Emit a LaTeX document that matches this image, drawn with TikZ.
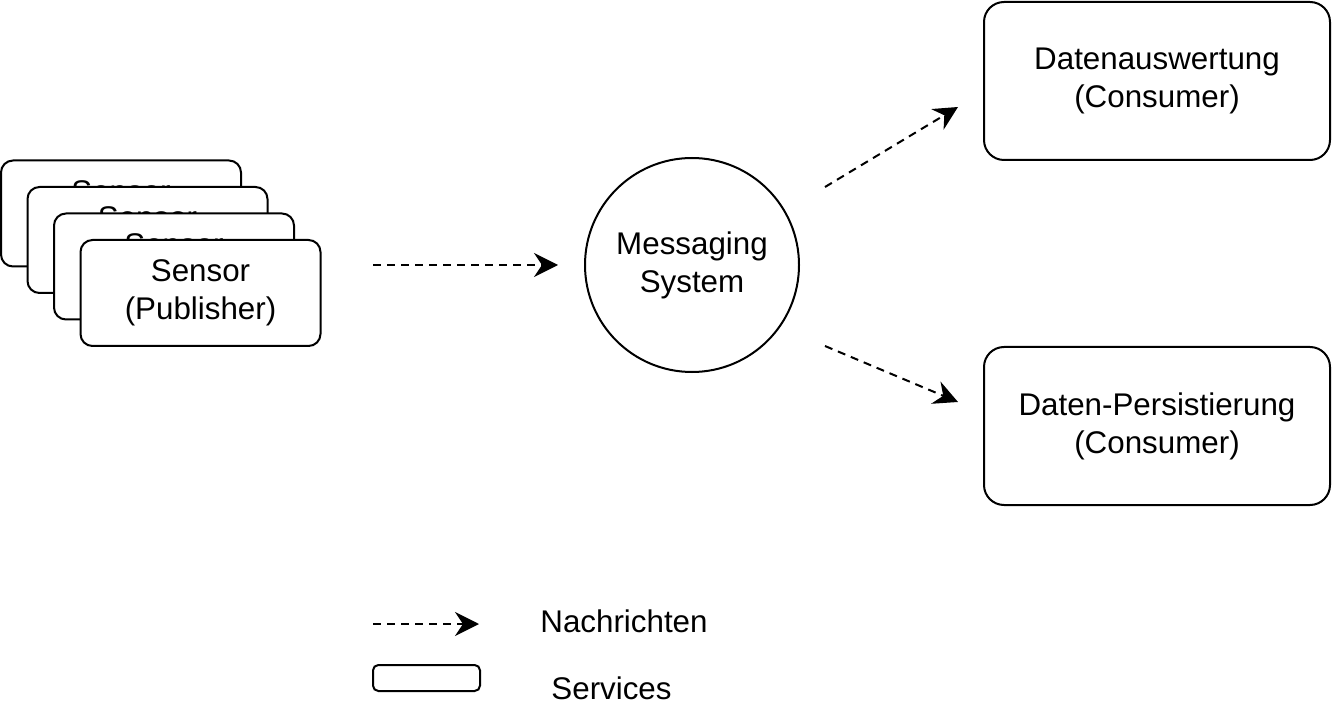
\documentclass[tikz,border=0pt]{standalone}
\usepackage{fontspec}
\setmainfont{Liberation Sans}
\usetikzlibrary{arrows.meta}
\begin{document}
\begin{tikzpicture}[x=0.75pt,y=-0.75pt,
  txt/.style={font=\fontsize{23.5}{28.5}\selectfont, align=center, inner sep=0pt},
  svc/.style={txt, draw, line width=1.5pt, fill=white},
  sensorbox/.style={svc, rounded corners=9pt, minimum width=180pt, minimum height=79.5pt},
  consbox/.style={svc, rounded corners=15pt, minimum width=259.5pt, minimum height=118.5pt},
  msgsys/.style={svc, circle, minimum size=160.5pt},
  legendbox/.style={draw, line width=1.5pt, rounded corners=4pt, minimum width=80.25pt, minimum height=19.5pt, inner sep=0pt},
  msg/.style={line width=1.5pt, dash pattern=on 6pt off 4.5pt, -{Stealth[length=18pt,width=18pt,inset=6pt]}},
]
\useasboundingbox (0,0) rectangle (1332,720);
% sensors stack
\node[sensorbox] (s1) at (121,213.5) {Sensor\\(Publisher)};
\node[sensorbox] (s2) at (147.5,240) {Sensor\\(Publisher)};
\node[sensorbox] (s3) at (174,266.5) {Sensor\\(Publisher)};
\node[sensorbox] (s4) at (200.5,293) {Sensor\\(Publisher)};
% messaging system
\node[msgsys] (ms) at (692,265) {Messaging\\System};
% consumers
\node[consbox] (c1) at (1157,81) {Datenauswertung\\(Consumer)};
\node[consbox] (c2) at (1157,426) {Daten-Persistierung\\(Consumer)};
% arrows
\coordinate (p1s) at (373,265);
\coordinate (p1e) at (558,265);
\coordinate (p2s) at (825,187);
\coordinate (p2e) at (958,107);
\coordinate (p3s) at (825,346);
\coordinate (p3e) at (958,402);
\draw[msg] (p1s) -- (p1e);
\draw[msg] (p2s) -- (p2e);
\draw[msg] (p3s) -- (p3e);
% legend
\coordinate (l1s) at (373,624);
\coordinate (l1e) at (479,624);
\draw[msg] (l1s) -- (l1e);
\node[txt] (t1) at (624,621) {Nachrichten};
\node[legendbox] (lb) at (426.5,678) {};
\node[txt] (t2) at (611.5,688) {Services};
\end{tikzpicture}
\end{document}
